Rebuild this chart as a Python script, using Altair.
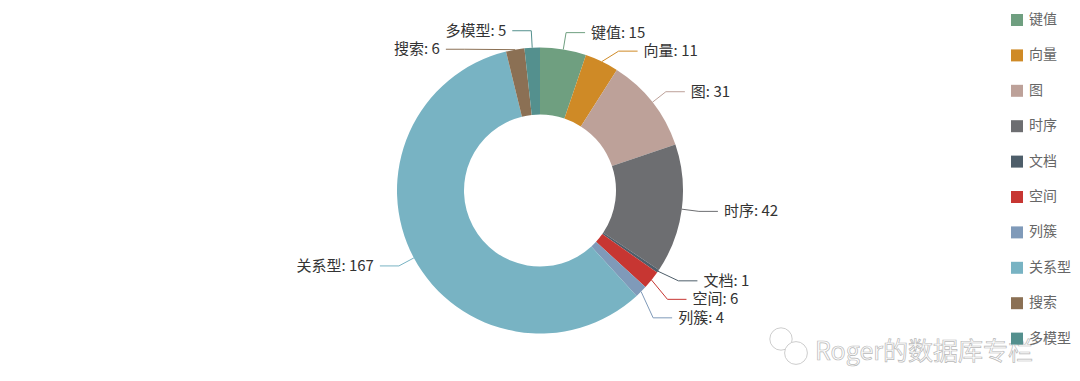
import altair as alt
import numpy as np
import pandas as pd

categories = ["键值", "向量", "图", "时序", "文档", "空间", "列簇", "关系型", "搜索", "多模型"]
values = [15, 11, 31, 42, 1, 6, 4, 167, 6, 5]
colors = ["#6f9f80", "#cf8a26", "#bda199", "#6d6e71", "#4e5e6a",
          "#c73632", "#7f9ab9", "#78b3c3", "#8b7054", "#54908e"]
watermark = "Roger的数据库专栏"

W, H = 1064, 365
CX, CY = W / 2, H / 2
R_IN, R_OUT = 76, 143
L1, L2, GAP, MIN_DY = 17, 19, 6, 18.5
FONT = "Noto Sans CJK SC"

# ---- derived geometry for leader lines / labels (computed from the values) ----
vals = np.array(values, dtype=float)
total = vals.sum()
start = np.concatenate([[0], np.cumsum(vals)[:-1]])
theta = (start + vals / 2) / total * 2 * np.pi
RA = R_OUT + L1

x0 = CX + R_OUT * np.sin(theta)
y0 = CY - R_OUT * np.cos(theta)
x1 = CX + RA * np.sin(theta)
y1 = CY - RA * np.cos(theta)
side = np.where(np.sin(theta) >= 0, "right", "left")
sign = np.where(side == "right", 1, -1)

# push overlapping labels apart on each side
y1adj = y1.copy()
for s in ["right", "left"]:
    idx = sorted([i for i in range(len(values)) if side[i] == s], key=lambda i: y1[i])
    last = -1e9
    for i in idx:
        y1adj[i] = max(y1[i], last + MIN_DY)
        last = y1adj[i]

# re-align the elbow points on an ellipse per side / half (as pie label layout does)
x1adj = x1.copy()
for s in ["right", "left"]:
    for bottom in [False, True]:
        idx = [i for i in range(len(values))
               if side[i] == s and ((y1adj[i] > CY) == bottom)]
        if not idx:
            continue
        far = max(idx, key=lambda i: abs(y1adj[i] - CY))
        dyf = abs(y1adj[far] - CY)
        dxf = x1[far] - CX
        rB = np.sqrt(dyf ** 2 / (1 - dxf ** 2 / RA ** 2)) if abs(dxf) < RA else RA
        for i in idx:
            dy = abs(y1adj[i] - CY)
            x1adj[i] = CX + sign[i] * RA * np.sqrt(max(0.0, 1 - dy ** 2 / rB ** 2))

x2 = x1adj + sign * L2
xt = x2 + sign * GAP

arc_df = pd.DataFrame({"cat": categories, "value": values, "idx": range(len(values))})

line_rows = []
for i, c in enumerate(categories):
    for k, (px, py) in enumerate([(x0[i], y0[i]), (x1adj[i], y1adj[i]), (x2[i], y1adj[i])]):
        line_rows.append({"cat": c, "pt": k, "x": px, "y": py})
line_df = pd.DataFrame(line_rows)

label_df = pd.DataFrame({
    "cat": categories,
    "label": [f"{c}: {v}" for c, v in zip(categories, values)],
    "x": xt, "y": y1adj, "side": side,
})

color_scale = alt.Scale(domain=categories, range=colors)
xs = alt.X("x:Q", scale=alt.Scale(domain=[0, W], nice=False, zero=False), axis=None)
ys = alt.Y("y:Q", scale=alt.Scale(domain=[0, H], nice=False, zero=False, reverse=True), axis=None)

arc = alt.Chart(arc_df).mark_arc(innerRadius=R_IN, outerRadius=R_OUT, strokeWidth=0).encode(
    theta=alt.Theta("value:Q", stack=True),
    order=alt.Order("idx:Q"),
    color=alt.Color(
        "cat:N", scale=color_scale,
        legend=alt.Legend(
            title=None, orient="none", legendX=1002, legendY=5, padding=0,
            symbolType="square", symbolSize=144, symbolStrokeWidth=0,
            labelFontSize=14, labelFont=FONT, labelColor="#666666",
            labelOffset=5, rowPadding=21.4, labelLimit=200,
        ),
    ),
)

lines = alt.Chart(line_df).mark_line(strokeWidth=1).encode(
    x=xs, y=ys, detail="cat:N", order="pt:Q",
    color=alt.Color("cat:N", scale=color_scale, legend=None),
)

text_right = alt.Chart(label_df).transform_filter(alt.datum.side == "right").mark_text(
    align="left", baseline="middle", fontSize=15, font=FONT, color="#333333"
).encode(x=xs, y=ys, text="label:N")

text_left = alt.Chart(label_df).transform_filter(alt.datum.side == "left").mark_text(
    align="right", baseline="middle", fontSize=15, font=FONT, color="#333333"
).encode(x=xs, y=ys, text="label:N")

wm_df = pd.DataFrame({"t": [watermark]})
wm = alt.Chart(wm_df).mark_text(
    align="left", baseline="middle", fontSize=25, font=FONT,
    fill="#ffffff", stroke="#b8b8b8", strokeWidth=0.7,
).encode(x=alt.value(807), y=alt.value(344), text="t:N")

bubble1 = alt.Chart(wm_df).mark_point(
    shape="circle", filled=True, fill="#ffffff", stroke="#c0c0c0", strokeWidth=0.8, size=500, opacity=1
).encode(x=alt.value(773), y=alt.value(331))
bubble2 = alt.Chart(wm_df).mark_point(
    shape="circle", filled=True, fill="#ffffff", stroke="#c0c0c0", strokeWidth=0.8, size=520, opacity=1
).encode(x=alt.value(788), y=alt.value(345))

chart = alt.layer(arc, lines, text_right, text_left, bubble1, bubble2, wm).properties(
    width=W, height=H, padding=0, autosize=alt.AutoSizeParams(type="none")
).configure_view(stroke=None)

chart.save("out.html", embed_options={"renderer": "svg", "actions": False})
